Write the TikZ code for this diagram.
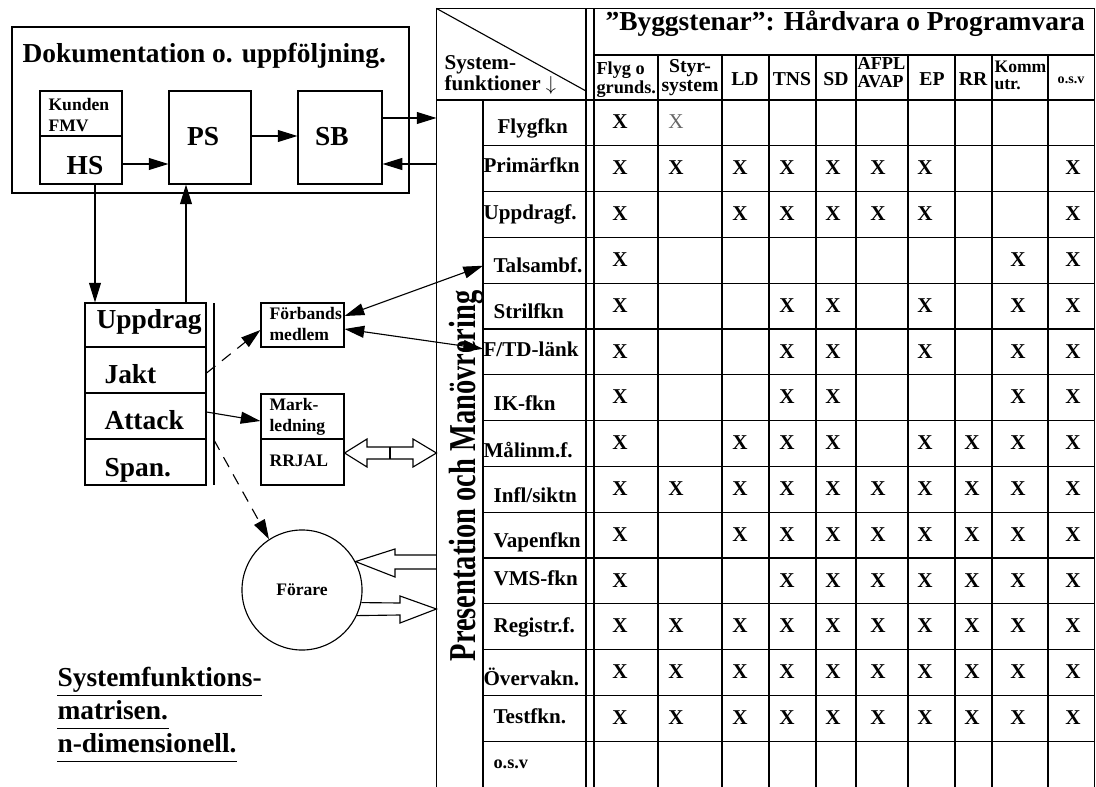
\documentclass[tikz,border=0pt]{standalone}
\usepackage{fontspec}
\setmainfont{Liberation Serif}
\usepackage{graphicx}
\usepackage{tikz}
\usetikzlibrary{arrows.meta}
\usetikzlibrary{fit}

\newcommand{\fsz}[2]{\bfseries\fontsize{#1}{#2}\selectfont}

\tikzset{
	box/.style={draw, inner sep=0pt},
	arr/.style={-{Triangle[length=14pt,width=8.5pt]}},
	darr/.style={{Triangle[length=14pt,width=8.5pt]}-{Triangle[length=14pt,width=8.5pt]}},
	dasharr/.style={arr, dash pattern=on 8pt off 6pt},
	bigtxt/.style={font=\fsz{19.5}{23}, inner sep=0pt},
	smalltxt/.style={font=\fsz{12.5}{15}, align=left, inner sep=0pt},
	rowlbl/.style={font=\fsz{15}{17}, anchor=base west, inner sep=0pt},
	colhd/.style={font=\fsz{14}{13.5}, align=left, inner sep=0pt},
	xmark/.style={font=\fsz{15}{17}, anchor=base, inner sep=0pt},
}

\begin{document}
\begin{tikzpicture}[x=0.025cm,y=-0.025cm,line width=0.8pt]
	\useasboundingbox (0,0) rectangle (1096,787);
	
	%dokumentation
	\node[box, fit={(12,27) (409,193)}] (doc) {};
	\node[font=\fsz{19.5}{22}, anchor=base west, inner sep=0pt] (doctitle) at (22,63) {Dokumentation o. uppföljning.};
	\node[box, fit={(40,91) (122,184)}] (hs) {};
	\draw (hs.west |- 0,136) -- (hs.east |- 0,136);	%kunden | hs
	\node[smalltxt, anchor=north west] (kunden) at (48,98) {Kunden\\FMV};
	\node[bigtxt] (hstxt) at (85,166) {HS};
	\node[box, fit={(169,91) (251,184)}] (ps) {};
	\node[bigtxt] (pstxt) at (203,137) {PS};
	\node[box, fit={(298,91) (382,184)}] (sb) {};
	\node[bigtxt] (sbtxt) at (332,137) {SB};
	
	%uppdrag
	\node[box, fit={(85,303) (206,485)}] (upp) {};
	\draw[line width=1.6pt] (upp.west |- 0,347) -- (upp.east |- 0,347);
	\draw (upp.west |- 0,393) -- (upp.east |- 0,393);
	\draw (upp.west |- 0,439) -- (upp.east |- 0,439);
	\node[bigtxt, anchor=base west] (uppdrag) at (96,328) {Uppdrag};
	\node[bigtxt, anchor=base west] (jakt) at (104,383) {Jakt};
	\node[bigtxt, anchor=base west] (attack) at (104,429) {Attack};
	\node[bigtxt, anchor=base west] (span) at (104,476) {Span.};
	\coordinate (sep1) at (214,303);
	\coordinate (sep2) at (214,485);
	\draw (sep1) -- (sep2);		%separator
	
	%forband, markledning, forare
	\node[box, fit={(261,303) (344,347)}] (fb) {};
	\node[smalltxt, anchor=north west] (fbtxt) at (269,307) {Förbands\\medlem};
	\node[box, fit={(261,394) (344,485)}] (mark) {};
	\draw (mark.west |- 0,439) -- (mark.east |- 0,439);
	\node[smalltxt, anchor=north west] (marktxt) at (269,398) {Mark-\\ledning};
	\node[smalltxt, anchor=base west] (rrjal) at (269,466) {RRJAL};
	\node[draw, circle, minimum size=3cm, inner sep=0pt, font=\fsz{12.5}{14}] (forare) at (302,590) {Förare};
	
	%matrix frame
	\node[fit={(437,9) (1094,787)}, inner sep=0pt] (mtx) {};
	\draw (mtx.south west) -- (mtx.north west) -- (mtx.north east) -- (mtx.south east);
	\draw (586,9) -- (586,787);
	\draw (594,9) -- (594,787);
	\draw (mtx.west |- 0,100) -- (mtx.east |- 0,100);
	\draw (594,55) -- (1094,55);
	\draw (483,100) -- (483,787);
	\draw (mtx.north west) -- (586,91);		%diagonal
	\foreach \xx in {658,722,769,816,856,908,955,992,1048}
		\draw (\xx,55) -- (\xx,787);
	\foreach \i in {1,...,14}
		\draw (483,{100+45.8*\i}) -- (1094,{100+45.8*\i});
	
	%matrix headers
	\node[font=\fsz{19.5}{22}, anchor=base west, inner sep=0pt] (bygg) at (605,31) {”Byggstenar”: Hårdvara o Programvara};
	\node[font=\fsz{15}{13.5}, align=left, anchor=north west, inner sep=0pt] (sysf) at (444,55) {System-\\funktioner $\downarrow$};
	\node[colhd, font=\fsz{13}{13.5}, anchor=north west] (h1) at (596,61) {Flyg o\\grunds.};
	\node[colhd, align=center, anchor=north] (h2) at (690,59) {Styr-\\system};
	\node[colhd] (h3) at (745,79) {LD};
	\node[colhd] (h4) at (792,79) {TNS};
	\node[colhd] (h5) at (836,79) {SD};
	\node[colhd, font=\fsz{13}{12.5}, anchor=north west] (h6) at (857,57) {AFPL\\AVAP};
	\node[colhd] (h7) at (932,79) {EP};
	\node[colhd] (h8) at (973,79) {RR};
	\node[colhd, font=\fsz{12.5}{12.5}, anchor=north west] (h9) at (994,60) {Komm\\utr.};
	\node[colhd, font=\fsz{10}{12}] (h10) at (1071,80) {o.s.v};
	\node[rotate=90, anchor=base, inner sep=0pt] (band) at (475,476) {\scalebox{0.75}[1]{\fsz{27}{30}Presentation och Manövrering}};
	
	%row labels
	\foreach \i/\xx/\yy/\lbl in {1/497/134/Flygfkn, 2/483/173/Primärfkn, 3/483/220/Uppdragf., 4/493/273/Talsambf., 5/493/318/Strilfkn, 6/483/356/{F/TD-länk}, 7/493/410/IK-fkn, 8/483/457/Målinm.f., 9/493/502/{Infl/siktn}, 10/493/547/Vapenfkn, 11/493/585/VMS-fkn, 12/493/632/Registr.f., 13/483/685/Övervakn., 14/493/723/Testfkn.}
		\node[rowlbl] (r\i) at (\xx,\yy) {\lbl};
	\node[rowlbl, font=\fsz{13}{15}] (r15) at (493,768) {o.s.v};
	
	%crosses
	\foreach \rw/\cl in {1/{1}, 2/{1,2,3,4,5,6,7,10}, 3/{1,3,4,5,6,7,10}, 4/{1,9,10}, 5/{1,4,5,7,9,10}, 6/{1,4,5,7,9,10}, 7/{1,4,5,9,10}, 8/{1,3,4,5,7,8,9,10}, 9/{1,...,10}, 10/{1,3,4,5,6,7,8,9,10}, 11/{1,4,5,6,7,8,9,10}, 12/{1,...,10}, 13/{1,...,10}, 14/{1,...,10}}
		\foreach \cc in \cl {
			\pgfmathsetmacro{\xc}{{620,676,740,787,833,878,925,972,1018,1073}[\cc-1]}
			\node[xmark] (x\rw-\cc) at (\xc,{100+45.8*(\rw-1)+29}) {X};
		}
	\node[xmark, font=\mdseries\fontsize{15}{17}\selectfont, text=black!60] (x1-2) at (676,129) {X};
	
	%connectors
	\draw[arr] (hs.east |- 0,164) -- (ps.west |- 0,164);
	\draw[arr] (ps.east |- 0,136) -- (sb.west |- 0,136);
	\draw[arr] (sb.east |- 0,118) -- (mtx.west |- 0,118);
	\draw[arr] (mtx.west |- 0,164) -- (sb.east |- 0,164);
	\draw[arr] (hs.south -| 95,0) -- (upp.north -| 95,0);
	\draw[arr] (upp.north -| 186,0) -- (ps.south -| 186,0);
	\draw[dasharr] (upp.east |- 0,373) -- (fb.west |- 0,330);
	\draw[arr] (upp.east |- 0,412) -- (mark.west |- 0,421);
	\coordinate (dsh) at (214,440);
	\draw[dasharr] (dsh) -- (forare.123);
	\draw[darr] (fb.east |- 0,316) -- (483,0 |- r4.west);
	\draw[darr] (fb.east |- 0,329) -- (483,0 |- r6.west);
	
	%block arrows
	\draw (mark.east |- 0,453) -- (367,439) -- (367,447) -- (413,447) -- (413,439) -- (mtx.west |- 0,453) -- (413,467) -- (413,459) -- (367,459) -- (367,467) -- cycle;
	\draw (390,447) -- (390,459);
	\draw (mtx.west |- 0,555) -- (395,555) -- (395,549) -- (forare.28) -- (395,577) -- (395,569) -- (mtx.west |- 0,569);
	\draw (forare.-12) -- (400,603) -- (400,596) -- (mtx.west |- 0,609) -- (400,623) -- (400,615) -- (forare.-25);
	
	%caption
	\node[bigtxt, anchor=base west] (cap1) at (57,686) {Systemfunktions-};
	\node[bigtxt, anchor=base west] (cap2) at (57,719) {matrisen.};
	\node[bigtxt, anchor=base west] (cap3) at (57,752) {n-dimensionell.};
	\foreach \n in {cap1,cap2,cap3}
		\draw ([yshift=-7pt]\n.base west) -- ([yshift=-7pt]\n.base east);
\end{tikzpicture}
\end{document}
